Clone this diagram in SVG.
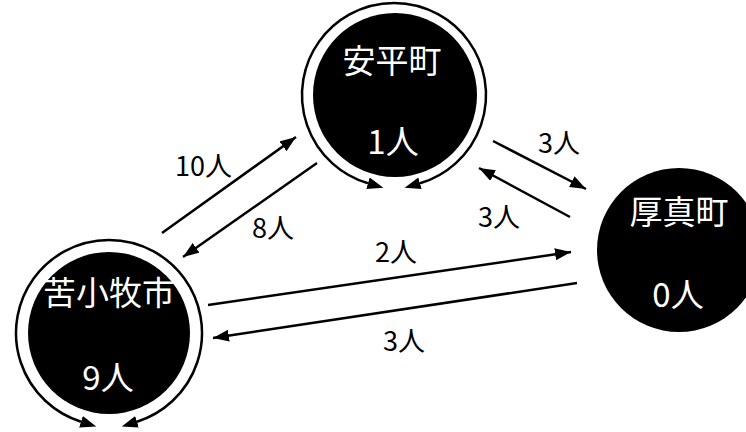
<svg xmlns="http://www.w3.org/2000/svg" width="746" height="432" viewBox="0 0 746 432">
  <style>
    .node { fill: #000; }
    .nlabel { fill: #fff; font-family: "Noto Sans CJK JP", "Noto Sans", sans-serif; font-size: 33px; text-anchor: middle; }
    .edge { fill: none; stroke: #000; stroke-width: 2.5; }
    .loop { fill: none; stroke: #000; stroke-width: 2.5; }
    .elabel { fill: #000; font-family: "Noto Sans CJK JP", "Noto Sans", sans-serif; font-size: 27px; }
  </style>
  <defs>
    <marker id="arrow" markerUnits="userSpaceOnUse" markerWidth="17" markerHeight="13" refX="16" refY="6" orient="auto">
      <path d="M0,0 L16,6 L0,12 z" fill="#000"/>
    </marker>
    <marker id="loopArrow" markerUnits="userSpaceOnUse" markerWidth="17" markerHeight="13" refX="0" refY="6" orient="auto-start-reverse">
      <path d="M0,0 L16,6 L0,12 z" fill="#000"/>
    </marker>
  </defs>
  <rect width="746" height="432" fill="#fff"/>

  <g id="node-anpei">
    <circle class="node" cx="395" cy="95" r="82"/>
    <text class="nlabel" x="392" y="73">安平町</text>
    <text class="nlabel" x="393" y="154">1人</text>
  </g>
  <g id="node-tomakomai">
    <circle class="node" cx="109" cy="333" r="81"/>
    <text class="nlabel" x="109" y="305">苦小牧市</text>
    <text class="nlabel" x="108" y="390">9人</text>
  </g>
  <g id="node-atsuma">
    <circle class="node" cx="679" cy="250" r="82"/>
    <text class="nlabel" x="679" y="224">厚真町</text>
    <text class="nlabel" x="678" y="307">0人</text>
  </g>

  <g id="connectors">
    <path class="loop" d="M368,183.25 A92,92 0 1 1 420,183.25" marker-start="url(#loopArrow)" marker-end="url(#loopArrow)"/>
    <path class="loop" d="M81,421.7 A93,93 0 1 1 137,421.7" marker-start="url(#loopArrow)" marker-end="url(#loopArrow)"/>
    <line class="edge" x1="162" y1="233" x2="296" y2="137" marker-end="url(#arrow)"/>
    <line class="edge" x1="317" y1="163" x2="183" y2="257" marker-end="url(#arrow)"/>
    <line class="edge" x1="493" y1="141" x2="586" y2="189" marker-end="url(#arrow)"/>
    <line class="edge" x1="570" y1="217" x2="479" y2="168" marker-end="url(#arrow)"/>
    <line class="edge" x1="208" y1="305" x2="571" y2="252" marker-end="url(#arrow)"/>
    <line class="edge" x1="577" y1="283" x2="213" y2="338" marker-end="url(#arrow)"/>
  </g>

  <g id="edge-labels">
    <text class="elabel" x="175" y="176">10人</text>
    <text class="elabel" x="252" y="238">8人</text>
    <text class="elabel" x="538" y="153">3人</text>
    <text class="elabel" x="478" y="227">3人</text>
    <text class="elabel" x="375" y="262">2人</text>
    <text class="elabel" x="383" y="351">3人</text>
  </g>
</svg>
